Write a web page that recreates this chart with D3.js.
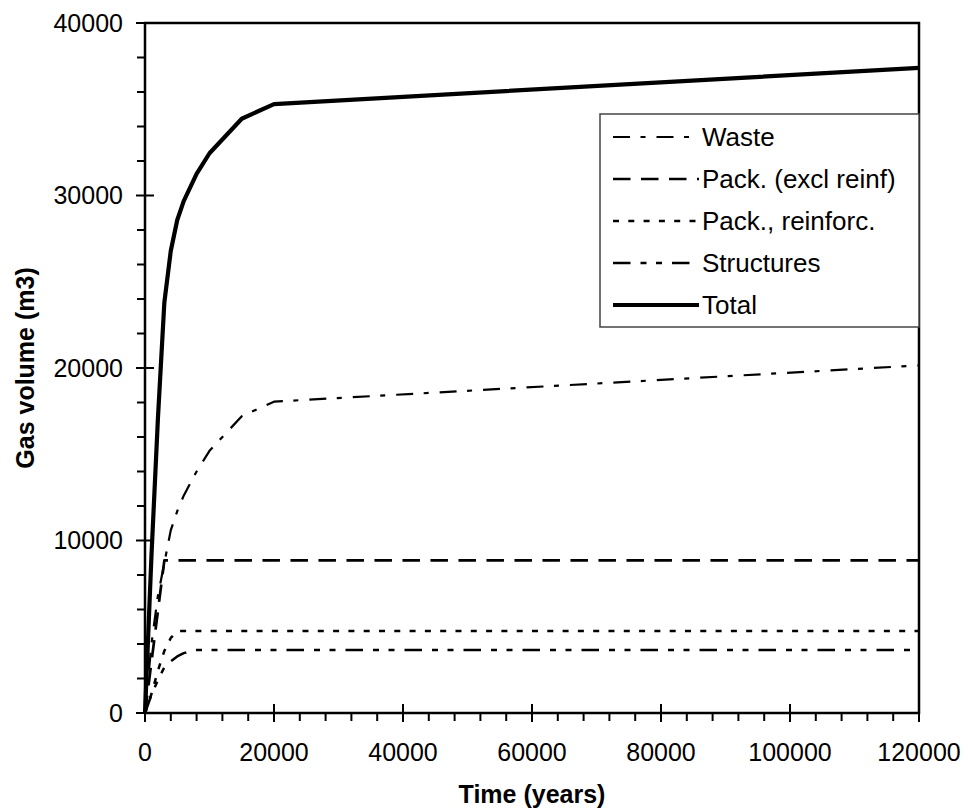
<!DOCTYPE html>
<html>
<head>
<meta charset="utf-8">
<script src="https://cdn.jsdelivr.net/npm/d3@7"></script>
<style>
  body { margin: 0; background: #fff; }
  text { font-family: Arial, "Liberation Sans", sans-serif; fill: #000; }
</style>
</head>
<body>
<svg id="chart" width="968" height="812"></svg>
<script>
// time points (years)
var years = [0, 1000, 2000, 3000, 4000, 5000, 6000, 8000, 10000, 15000, 20000, 120000];

// gas volumes (m3)
var waste      = [0, 4000, 6800, 8700, 10600, 11700, 12600, 14000, 15200, 17200, 18050, 20150];
var packExcl   = [0, 2950, 5900, 8850, 8850, 8850, 8850, 8850, 8850, 8850, 8850, 8850];
var packReinf  = [0, 1100, 2450, 3600, 4350, 4750, 4750, 4750, 4750, 4750, 4750, 4750];
var structures = [0, 1050, 1900, 2650, 3000, 3280, 3470, 3650, 3650, 3650, 3650, 3650];
var total      = [0, 9100, 17050, 23800, 26800, 28580, 29670, 31250, 32450, 34450, 35300, 37400];

var seriesNames = ["Waste", "Pack. (excl reinf)", "Pack., reinforc.", "Structures", "Total"];
var seriesValues = [waste, packExcl, packReinf, structures, total];

var xTicks = [0, 20000, 40000, 60000, 80000, 100000, 120000];
var yTicks = [0, 10000, 20000, 30000, 40000];

var styles = [
    { width: 2.2, dash: "17,10.5,5,11" },
    { width: 2.7, dash: "17.5,10.5" },
    { width: 2.5, dash: "6,9.3" },
    { width: 2.5, dash: "17.5,10,6,9.5,6,10" },
    { width: 4.2, dash: null }
];

var svg = d3.select("#chart");
var plotL = 145, plotR = 919, plotT = 23, plotB = 713;

var x = d3.scaleLinear().domain([0, 120000]).range([plotL, plotR]);
var y = d3.scaleLinear().domain([0, 40000]).range([plotB, plotT]);

// minor ticks
var xMinor = d3.range(0, 120001, 4000).filter(function(d) { return d % 20000 !== 0; });
var yMinor = d3.range(0, 40001, 2000).filter(function(d) { return d % 10000 !== 0; });

svg.append("g").selectAll("line")
    .data(xMinor)
    .enter().append("line")
    .attr("x1", function(d) { return x(d); })
    .attr("x2", function(d) { return x(d); })
    .attr("y1", plotB)
    .attr("y2", plotB + 8)
    .attr("stroke", "#000")
    .attr("stroke-width", 2);

svg.append("g").selectAll("line")
    .data(xTicks)
    .enter().append("line")
    .attr("x1", function(d) { return x(d); })
    .attr("x2", function(d) { return x(d); })
    .attr("y1", plotB - 9)
    .attr("y2", plotB + 9)
    .attr("stroke", "#000")
    .attr("stroke-width", 2);

svg.append("g").selectAll("line")
    .data(yMinor)
    .enter().append("line")
    .attr("x1", plotL - 8)
    .attr("x2", plotL)
    .attr("y1", function(d) { return y(d); })
    .attr("y2", function(d) { return y(d); })
    .attr("stroke", "#000")
    .attr("stroke-width", 2);

svg.append("g").selectAll("line")
    .data(yTicks)
    .enter().append("line")
    .attr("x1", plotL - 9)
    .attr("x2", plotL + 9)
    .attr("y1", function(d) { return y(d); })
    .attr("y2", function(d) { return y(d); })
    .attr("stroke", "#000")
    .attr("stroke-width", 2);

// frame
svg.append("path")
    .attr("d", "M" + plotL + "," + plotB + "V" + plotT + "H" + plotR + "V" + plotB + "H" + plotL)
    .attr("fill", "none")
    .attr("stroke", "#000")
    .attr("stroke-width", 2.5);

// tick labels
svg.append("g").selectAll("text")
    .data(xTicks)
    .enter().append("text")
    .attr("x", function(d) { return x(d); })
    .attr("y", plotB + 48)
    .attr("text-anchor", "middle")
    .style("font-size", "25px")
    .text(function(d) { return d; });

svg.append("g").selectAll("text")
    .data(yTicks)
    .enter().append("text")
    .attr("x", plotL - 22)
    .attr("y", function(d) { return y(d); })
    .attr("dy", "0.35em")
    .attr("text-anchor", "end")
    .style("font-size", "25px")
    .text(function(d) { return d; });

// axis titles
svg.append("text")
    .attr("x", (plotL + plotR) / 2)
    .attr("y", 803)
    .attr("text-anchor", "middle")
    .style("font-size", "25px")
    .style("font-weight", "bold")
    .text("Time (years)");

svg.append("text")
    .attr("transform", "translate(34," + (plotT + plotB) / 2 + ") rotate(-90)")
    .attr("text-anchor", "middle")
    .style("font-size", "25px")
    .style("font-weight", "bold")
    .text("Gas volume (m3)");

// lines
var line = d3.line()
    .x(function(d) { return x(d[0]); })
    .y(function(d) { return y(d[1]); });

seriesValues.forEach(function(vals, i) {
    var pts = years.map(function(t, j) { return [t, vals[j]]; });
    svg.append("path")
        .datum(pts)
        .attr("d", line)
        .attr("fill", "none")
        .attr("stroke", "#000")
        .attr("stroke-width", styles[i].width)
        .attr("stroke-linejoin", "round")
        .attr("stroke-dasharray", styles[i].dash);
});

// legend
var legend = svg.append("g");
legend.append("rect")
    .attr("x", 600)
    .attr("y", 114)
    .attr("width", plotR - 600)
    .attr("height", 213)
    .attr("fill", "#fff")
    .attr("stroke", "#444")
    .attr("stroke-width", 1.5);

var rows = legend.selectAll(".row")
    .data(seriesNames)
    .enter().append("g")
    .attr("class", "row")
    .attr("transform", function(d, i) { return "translate(0," + (137 + i * 42) + ")"; });

rows.append("line")
    .attr("x1", 613)
    .attr("x2", 699)
    .attr("stroke", "#000")
    .attr("stroke-width", function(d, i) { return styles[i].width; })
    .attr("stroke-dasharray", function(d, i) { return styles[i].dash; });

rows.append("text")
    .attr("x", 702)
    .attr("dy", "0.35em")
    .style("font-size", "26px")
    .text(function(d) { return d; });
</script>
</body>
</html>
